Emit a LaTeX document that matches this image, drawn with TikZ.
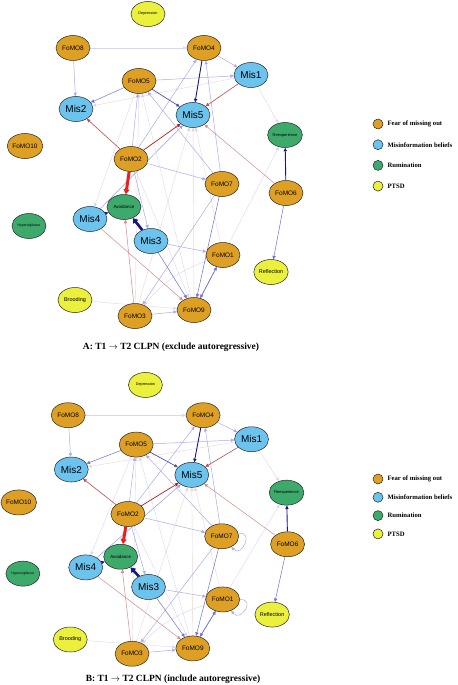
\documentclass[tikz,border=0pt]{standalone}
\usepackage{fontspec}
\setmainfont{Liberation Serif}
\setsansfont{Liberation Sans}
\usetikzlibrary{shapes.geometric,arrows.meta,backgrounds}

\definecolor{fomocol}{RGB}{222,160,36}
\definecolor{miscol}{RGB}{108,196,238}
\definecolor{rumcol}{RGB}{61,170,108}
\definecolor{ptsdcol}{RGB}{235,240,60}
\definecolor{navycol}{RGB}{20,20,140}
\definecolor{bluecol}{RGB}{110,110,222}
\definecolor{lbluecol}{RGB}{170,170,238}
\definecolor{fbluecol}{RGB}{214,214,247}
\definecolor{redcol}{RGB}{236,30,30}
\definecolor{brcol}{RGB}{185,75,75}
\definecolor{pinkcol}{RGB}{210,140,140}
\definecolor{fpinkcol}{RGB}{240,210,210}

\tikzset{
  var/.style={ellipse,draw=black!85,line width=0.5bp,minimum width=34bp,
    minimum height=25bp,inner sep=0pt},
  fomo/.style={var,fill=fomocol,font=\sffamily\fontsize{6.5}{7}\selectfont},
  mis/.style={var,fill=miscol,font=\sffamily\fontsize{10}{11}\selectfont},
  rum/.style={var,fill=rumcol,font=\sffamily\fontsize{4}{5}\selectfont},
  ptsd/.style={var,fill=ptsdcol,font=\sffamily\fontsize{5.5}{6}\selectfont},
  wee/.style={font=\sffamily\fontsize{3.8}{4}\selectfont},
  e/.style={-{Triangle[length=3.5bp,width=3.2bp]},line width=0.5bp},
  nv/.style={e,draw=navycol,line width=0.9bp},
  bl/.style={e,draw=bluecol,line width=0.5bp},
  lb/.style={e,draw=lbluecol},
  fb/.style={e,draw=fbluecol,line width=0.4bp},
  rd/.style={e,draw=redcol!80!black,line width=0.7bp},
  br/.style={e,draw=brcol,line width=0.6bp},
  pk/.style={e,draw=pinkcol},
  fp/.style={e,draw=fpinkcol,line width=0.4bp},
  legdot/.style={circle,draw=black!85,line width=0.5bp,minimum size=10bp,inner sep=0pt},
  legtext/.style={anchor=west,font=\bfseries\fontsize{6.7}{8}\selectfont},
  caption/.style={font=\bfseries\fontsize{9.5}{11}\selectfont}
}

% one panel of the network
\newcommand{\clpnnet}{%
  \node[ptsd,wee] (dep) at (148,14) {Depression};
  \node[fomo] (f8) at (73,48) {FoMO8};
  \node[fomo] (f4) at (204,48) {FoMO4};
  \node[mis] (m1) at (251,75) {Mis1};
  \node[fomo] (f5) at (139,81) {FoMO5};
  \node[mis] (m2) at (76,109) {Mis2};
  \node[mis] (m5) at (193,115) {Mis5};
  \node[rum] (ree) at (285,135) {Reexperience};
  \node[fomo] (f10) at (25,146) {FoMO10};
  \node[fomo] (f2) at (131,159) {FoMO2};
  \node[fomo] (f7) at (222,184) {FoMO7};
  \node[fomo] (f6) at (286,193) {FoMO6};
  \node[rum,font=\sffamily\fontsize{4.5}{5}\selectfont] (avo) at (124,207) {Avoidance};
  \node[mis] (m4) at (90,219) {Mis4};
  \node[rum,font=\sffamily\fontsize{3.5}{4}\selectfont] (hyp) at (29,226) {Hypervigilance};
  \node[mis] (m3) at (151,241) {Mis3};
  \node[fomo] (f1) at (223,255) {FoMO1};
  \node[ptsd] (ref) at (271,272) {Reflection};
  \node[ptsd] (bro) at (75,300) {Brooding};
  \node[fomo] (f9) at (194,310) {FoMO9};
  \node[fomo] (f3) at (135,316) {FoMO3};
  \begin{pgfonlayer}{background}
    % faint ones first
    \draw[fb] (f1) -- (ree);
    \draw[fb] (f5) -- (m4);
    \draw[fb] (f3) -- (f5);
    \draw[fb] (f9) -- (f5);
    \draw[fb] (f8) -- (f4);
    \draw[fb] (bro) -- (f9);
    \draw[fb] (f2) -- (f9);
    \draw[fb] (f1) to[bend right=15] (f3);
    \draw[fp] (m1) -- (m2);
    \draw[fp] (f9) -- (m5);
    \draw[fp] (f1) -- (m5);
    \draw[fp] (f3) -- (m5);
    \draw[fp] (m1) -- (ree);
    % light blue
    \draw[lb] (f8) -- (m2);
    \draw[lb] (f5) -- (m1);
    \draw[lb] (f4) -- (m1);
    \draw[lb] (f2) -- (f7);
    \draw[lb] (m3) -- (f1);
    \draw[lb] (f2) -- (f4);
    \draw[lb] (f2) -- (f5);
    \draw[lb] (f7) -- (f5);
    \draw[lb] (f7) -- (f4);
    \draw[lb] (f2) -- (m3);
    \draw[lb] (f3) -- (f9);
    \draw[lb] (f7) -- (f3);
    % blue
    \draw[bl] (f5) -- (m2);
    \draw[bl,draw=navycol!75,line width=0.7bp] (f5) -- (m5);
    \draw[bl] (f6) -- (ref);
    \draw[bl] (m3) -- (f9);
    \draw[bl] (f7) -- (f9);
    \draw[bl] (f1) -- (f9);
    \draw[bl] (f9) -- (f1);
    \draw[bl,draw=bluecol!70] (m4) -- (m5);
    \draw[nv] (f4) -- (m5);
    \draw[nv] (f6) -- (ree);
    \draw[nv,line width=1.4bp] (m4) -- (avo);
    \draw[nv,line width=2.6bp,-{Triangle[length=5bp,width=6bp]}] (m3) -- (avo);
    % red
    \draw[pk] (f3) -- (avo);
    \draw[pk] (m4) -- (f9);
    \draw[pk] (f6) -- (m5);
    \draw[br] (f2) -- (m2);
    \draw[br] (m1) -- (m5);
    \draw[rd] (f2) -- (m5);
    \draw[e,draw=redcol,line width=3bp,-{Triangle[length=5bp,width=6bp]}] (f2) -- (avo);
  \end{pgfonlayer}
}

\begin{document}
\begin{tikzpicture}[x=1bp,y=-1bp]
  \useasboundingbox (0,0) rectangle (458,685);

  % A: exclude autoregressive
  \begin{scope}
    \clpnnet
  \end{scope}
  \node[caption] (capA) at (171,347) {A: T1 $\rightarrow$ T2 CLPN (exclude autoregressive)};
  \foreach \cl/\tx [count=\i] in {fomocol/Fear of missing out,miscol/Misinformation beliefs,rumcol/Rumination,ptsdcol/PTSD} {
    \node[legdot,fill=\cl] (legA\i) at (378,{124+20.7*(\i-1)}) {};
    \node[legtext] (legtA\i) at (384,{124+20.7*(\i-1)}) {\tx};
  }

  % B: include autoregressive
  \begin{scope}[shift={(-7,372.5)},xscale=1.03,yscale=0.89]
    \clpnnet
    \begin{pgfonlayer}{background}
      \draw[lb] (f7) to[loop,out=10,in=-50,min distance=16bp] (f7);
      \draw[lb] (f1) to[loop,out=0,in=-55,min distance=16bp] (f1);
    \end{pgfonlayer}
  \end{scope}
  \node[caption] (capB) at (173,679) {B: T1 $\rightarrow$ T2 CLPN (include autoregressive)};
  \foreach \cl/\tx [count=\i] in {fomocol/Fear of missing out,miscol/Misinformation beliefs,rumcol/Rumination,ptsdcol/PTSD} {
    \node[legdot,fill=\cl] (legB\i) at (378,{479+18.3*(\i-1)}) {};
    \node[legtext] (legtB\i) at (384,{479+18.3*(\i-1)}) {\tx};
  }
\end{tikzpicture}
\end{document}
